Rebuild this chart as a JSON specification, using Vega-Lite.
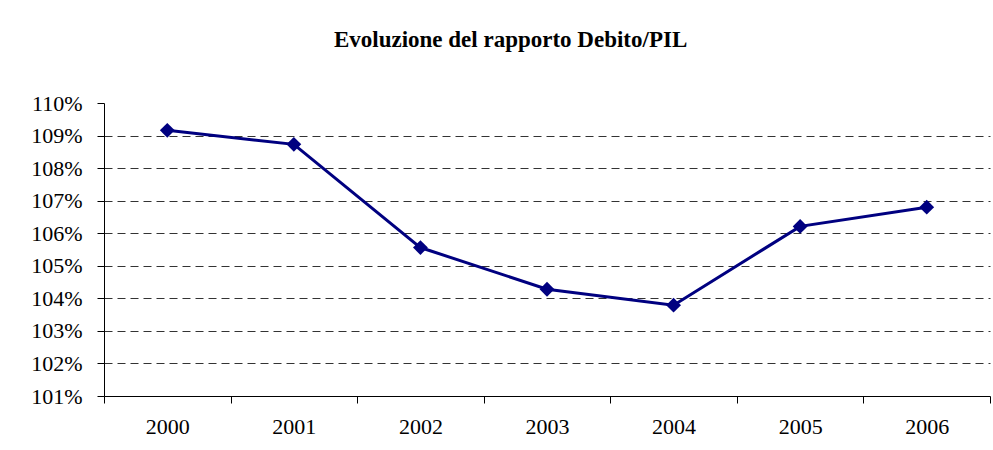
{
  "$schema": "https://vega.github.io/schema/vega-lite/v6.json",
  "width": 886,
  "height": 293,
  "autosize": {"type": "none"},
  "padding": {"left": 104, "top": 103, "right": 3, "bottom": 54},
  "background": "white",
  "config": {"view": {"stroke": null}, "font": "Liberation Serif"},
  "title": {
    "text": "Evoluzione del rapporto Debito/PIL",
    "font": "Liberation Serif",
    "fontSize": 23,
    "fontWeight": "bold",
    "color": "black",
    "anchor": "middle",
    "frame": "bounds",
    "baseline": "alphabetic",
    "offset": 22
  },
  "data": {
    "values": [
      {"anno": "2000", "rapporto": 1.0916},
      {"anno": "2001", "rapporto": 1.0873},
      {"anno": "2002", "rapporto": 1.0556},
      {"anno": "2003", "rapporto": 1.0428},
      {"anno": "2004", "rapporto": 1.0379},
      {"anno": "2005", "rapporto": 1.0621},
      {"anno": "2006", "rapporto": 1.0680}
    ]
  },
  "encoding": {
    "x": {
      "field": "anno",
      "type": "nominal",
      "scale": {"paddingInner": 0, "paddingOuter": 0},
      "axis": {
        "title": null,
        "labelAngle": 0,
        "labelFont": "Liberation Serif",
        "labelFontSize": 22,
        "labelColor": "black",
        "labelPadding": 13,
        "tickBand": "extent",
        "ticks": true,
        "tickSize": 7,
        "tickColor": "black",
        "domainColor": "black",
        "domainWidth": 1,
        "grid": false
      }
    },
    "y": {
      "field": "rapporto",
      "type": "quantitative",
      "scale": {"domain": [1.01, 1.10], "nice": false, "zero": false},
      "axis": {
        "title": null,
        "values": [1.01, 1.02, 1.03, 1.04, 1.05, 1.06, 1.07, 1.08, 1.09, 1.10],
        "format": ".0%",
        "labelFont": "Liberation Serif",
        "labelFontSize": 22,
        "labelColor": "black",
        "labelPadding": 15,
        "tickSize": 7,
        "tickColor": "black",
        "domainColor": "black",
        "domainWidth": 1,
        "grid": true,
        "gridColor": "#333333",
        "gridDash": [8, 5],
        "gridWidth": 1,
        "gridOpacity": {"condition": {"test": "datum.value >= 1.095 || datum.value <= 1.015", "value": 0}, "value": 1}
      }
    }
  },
  "layer": [
    {"mark": {"type": "line", "color": "#000080", "strokeWidth": 3}},
    {"mark": {"type": "point", "shape": "diamond", "filled": true, "color": "#000080", "size": 220, "opacity": 1}}
  ]
}
